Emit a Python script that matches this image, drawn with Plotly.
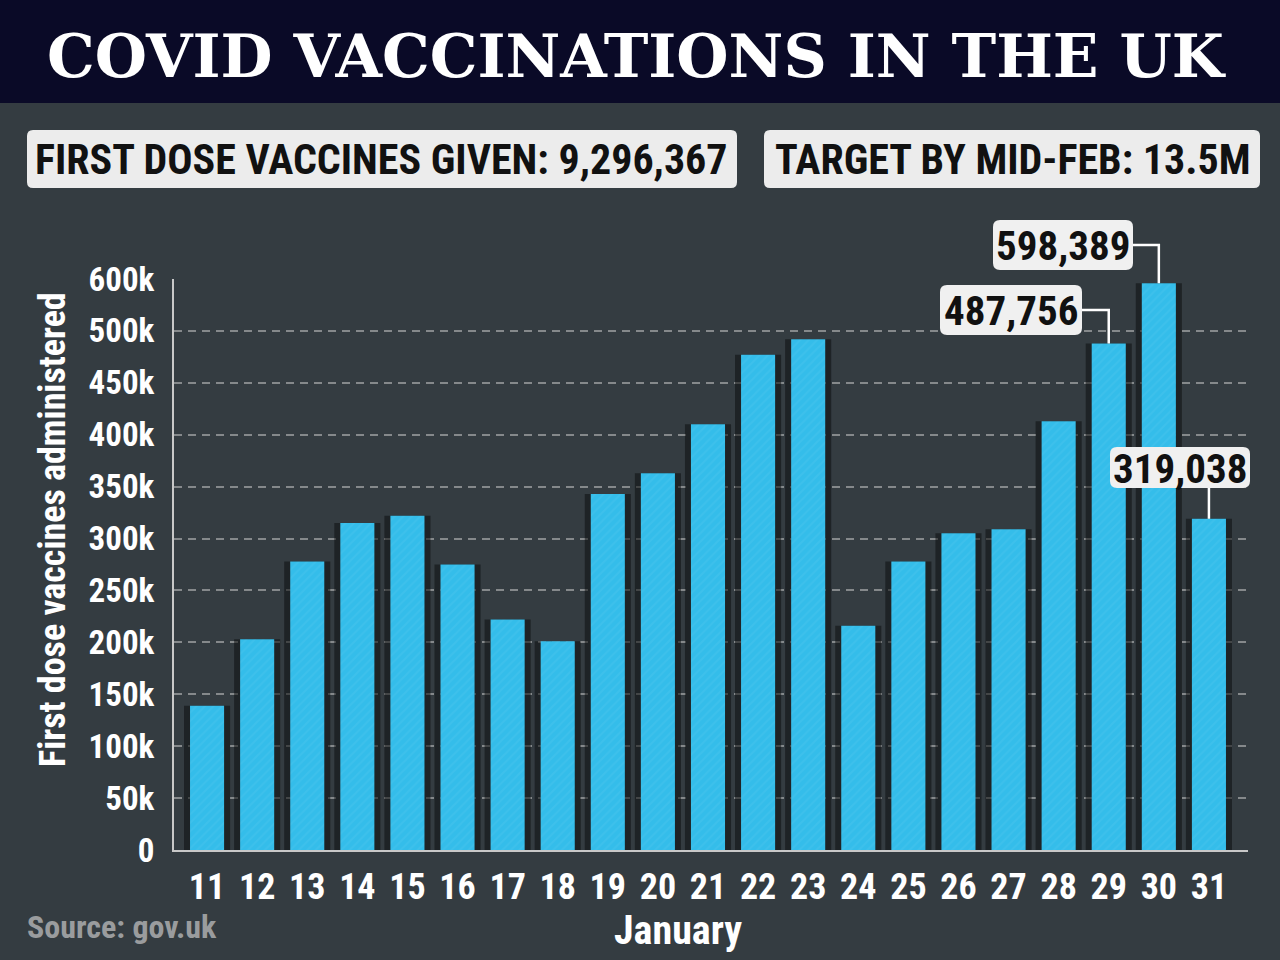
import plotly.graph_objects as go

# ---------------- data ----------------
days = ["11", "12", "13", "14", "15", "16", "17", "18", "19", "20", "21",
        "22", "23", "24", "25", "26", "27", "28", "29", "30", "31"]
first_doses = [139000, 203000, 278000, 315000, 322000, 275000, 222000, 201000,
               343000, 363000, 410000, 477000, 492000, 216000, 278000, 305000,
               309000, 413000, 487756, 546000, 319038]
tick_vals = [0, 50000, 100000, 150000, 200000, 250000, 300000, 350000,
             400000, 450000, 500000, 550000]
tick_text = ["0", "50k", "100k", "150k", "200k", "250k", "300k", "350k",
             "400k", "450k", "500k", "600k"]
callout_days = ["29", "30", "31"]
callout_text = ["487,756", "598,389", "319,038"]

TITLE = "COVID VACCINATIONS IN THE UK"
BOX1 = "FIRST DOSE VACCINES GIVEN: 9,296,367"
BOX2 = "TARGET BY MID-FEB: 13.5M"
X_TITLE = "January"
Y_TITLE = "First dose vaccines administered"
SOURCE = "Source: gov.uk"

# ---------------- layout geometry ----------------
W, H = 1280, 960
ML, MR, MT, MB = 174, 32, 279, 110
PW, PH = W - ML - MR, H - MT - MB
XMIN, XMAX = -0.66, 20.78
YMAX = 550000

def px_x(p):
    return (p - ML) / PW

def px_y(p):
    return (H - MB - p) / PH

def dx(i):
    return (i - XMIN) / (XMAX - XMIN)

def dy(v):
    return v / YMAX

COND = "Roboto Condensed, Noto Sans Condensed, Liberation Sans Narrow, Arial Narrow, Roboto, sans-serif"
BG = "#343c41"
BLUE = "#34bdea"

fig = go.Figure()

# shadow behind bars
fig.add_trace(go.Bar(
    x=list(range(len(days))), y=first_doses, width=0.92,
    marker=dict(color="rgba(12,14,16,0.55)", line=dict(width=0)),
    hoverinfo="skip", showlegend=False))
fig.add_trace(go.Bar(
    x=list(range(len(days))), y=first_doses, width=0.68,
    marker=dict(color=BLUE, line=dict(width=0),
                pattern=dict(shape="/", fillmode="overlay",
                             fgcolor="rgba(255,255,255,0.10)", size=6, solidity=0.3)),
    showlegend=False))

shapes = []
annotations = []

def rounded_rect(x0, y0, x1, y1, r, color):
    X0, X1 = px_x(x0), px_x(x1)
    Y0, Y1 = px_y(y0), px_y(y1)
    rx, ry = r / PW, r / PH
    path = (f"M {X0+rx},{Y0} L {X1-rx},{Y0} Q {X1},{Y0} {X1},{Y0-ry} "
            f"L {X1},{Y1+ry} Q {X1},{Y1} {X1-rx},{Y1} L {X0+rx},{Y1} "
            f"Q {X0},{Y1} {X0},{Y1+ry} L {X0},{Y0-ry} Q {X0},{Y0} {X0+rx},{Y0} Z")
    return dict(type="path", xref="paper", yref="paper", path=path,
                fillcolor=color, line=dict(width=0), layer="above")

def label(text, x, y, size, color, family=COND, xanchor="center", angle=0):
    return dict(text=text, xref="paper", yref="paper", x=x, y=y,
                showarrow=False, xanchor=xanchor, yanchor="middle",
                textangle=angle,
                font=dict(family=family, size=size, color=color))

# header band
shapes.append(dict(type="rect", xref="paper", yref="paper",
                   x0=px_x(0), x1=px_x(W), y0=px_y(103), y1=px_y(0),
                   fillcolor="#0a0a27", line=dict(width=0), layer="below"))
annotations.append(label(f"<b>{TITLE}</b>", px_x(636), px_y(56), 60, "white",
                         family="DejaVu Serif"))

# sub header boxes
shapes.append(rounded_rect(27, 130, 737, 188, 6, "#ececec"))
shapes.append(rounded_rect(764, 130, 1260, 188, 6, "#ececec"))
annotations.append(label(f"<b>{BOX1}</b>", px_x(381), px_y(160), 42, "#111111"))
annotations.append(label(f"<b>{BOX2}</b>", px_x(1013), px_y(160), 42, "#111111"))

# callouts (box pixel positions; connector derived from bar data)
callout_boxes = {"30": (993, 220, 1133, 270, "side"),
                 "29": (940, 285, 1082, 335, "side"),
                 "31": (1110, 447, 1250, 488, "below")}
for d, txt in zip(callout_days, callout_text):
    i = days.index(d)
    v = first_doses[i]
    bx0, by0, bx1, by1, kind = callout_boxes[d]
    if kind == "side":
        ymid = px_y((by0 + by1) / 2)
        path = f"M {px_x(bx1)},{ymid} L {dx(i)},{ymid} L {dx(i)},{dy(v)}"
    else:
        path = f"M {dx(i)},{px_y(by1)} L {dx(i)},{dy(v)}"
    shapes.append(dict(type="path", xref="paper", yref="paper", path=path,
                       line=dict(color="white", width=2.5), layer="above"))
    shapes.append(rounded_rect(bx0, by0, bx1, by1, 7, "#f0f0f0"))
    annotations.append(label(f"<b>{txt}</b>", px_x((bx0 + bx1) / 2),
                             px_y((by0 + by1) / 2 + 1), 41, "#111111"))

# source, axis titles
annotations.append(label(f"<b>{SOURCE}</b>", px_x(25), px_y(927), 32,
                         "#9a9c9e", xanchor="left"))
annotations.append(label(f"<b>{X_TITLE}</b>", px_x(678), px_y(930), 40, "white"))
annotations.append(label(f"<b>{Y_TITLE}</b>", px_x(53), px_y(530), 36, "white",
                         angle=-90))

fig.update_layout(
    width=W, height=H,
    margin=dict(l=ML, r=MR, t=MT, b=MB),
    paper_bgcolor=BG, plot_bgcolor="rgba(0,0,0,0)",
    barmode="overlay", bargap=0.3,
    shapes=shapes, annotations=annotations,
    showlegend=False,
    xaxis=dict(range=[XMIN, XMAX], tickmode="array",
               tickvals=list(range(len(days))), ticktext=days,
               tickfont=dict(family=COND, size=36, color="white", weight="bold"),
               showgrid=False, zeroline=False,
               showline=True, linecolor="#c8c8c8", linewidth=2,
               ticks="", ticklabelstandoff=4),
    yaxis=dict(range=[0, YMAX], tickmode="array", tickvals=tick_vals,
               ticktext=tick_text,
               tickfont=dict(family=COND, size=33, color="white", weight="bold"),
               showgrid=True, gridcolor="rgba(200,200,200,0.55)", gridwidth=1.5,
               griddash="8px,6px", zeroline=False,
               showline=True, linecolor="#c8c8c8", linewidth=2,
               ticks="", ticklabelstandoff=11),
)

fig.write_html("out.html")
